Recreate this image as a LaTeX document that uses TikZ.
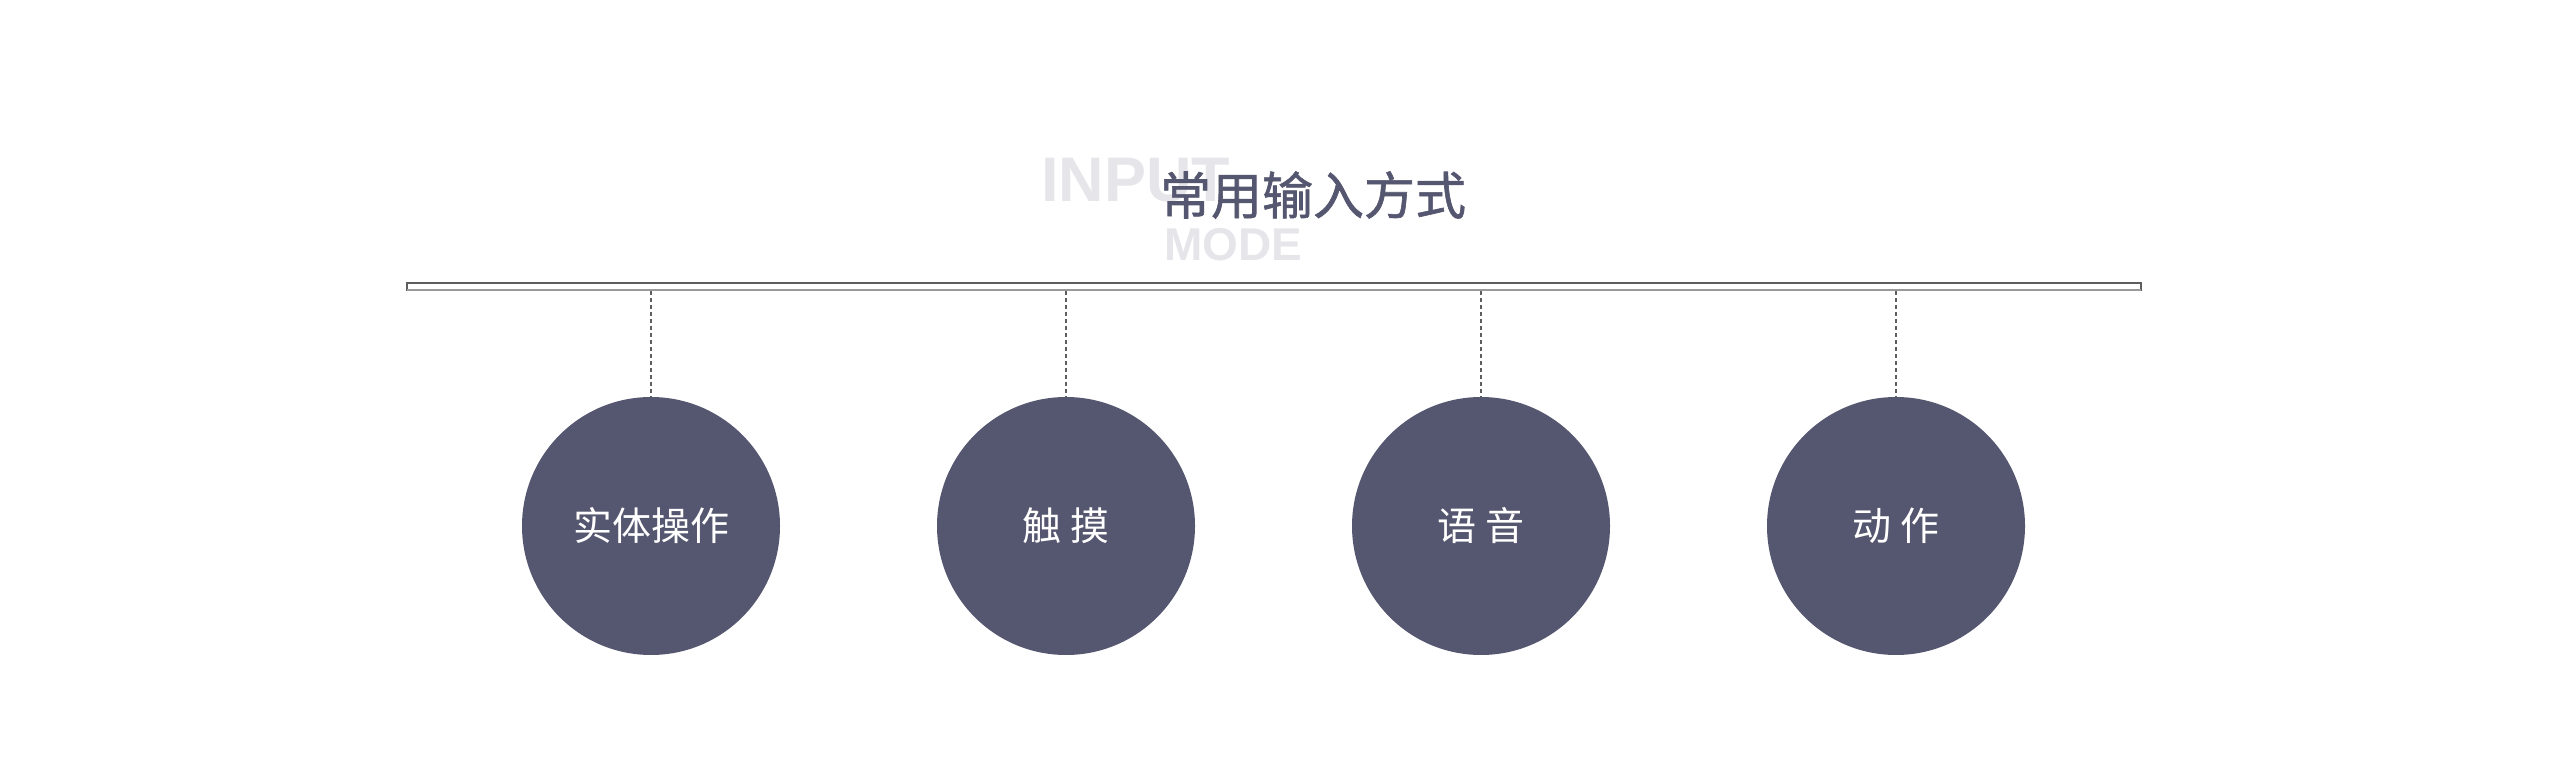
\documentclass[tikz,border=0pt]{standalone}
\usepackage{fontspec}
\setmainfont{Liberation Sans}
\newfontfamily\cjk{Noto Sans CJK SC}
\newfontfamily\cjkhead[FakeBold=1.2]{Noto Sans CJK SC}
\usetikzlibrary{positioning}
\definecolor{slate}{HTML}{55566F}
\definecolor{ghost}{HTML}{E6E6EA}
\definecolor{rail}{HTML}{5E5E5E}
\definecolor{lightrail}{HTML}{9A9A9A}

\begin{document}
\begin{tikzpicture}[x=1pt,y=-1pt,
    mode/.style={circle,minimum size=258pt,inner sep=0pt,fill=slate,text=white,font=\cjk\fontsize{39}{39}\selectfont},
    hang/.style={draw=rail,line width=1.2pt,dash pattern=on 4pt off 3pt},
    ghosttext/.style={text=ghost,inner sep=0pt,anchor=base west,font=\bfseries\fontsize{#1}{#1}\selectfont}]
        \useasboundingbox (0,0) rectangle (2560,783);

        \node[ghosttext=63] (input) at (1041,202) {INPUT};
        \node[ghosttext=46] (word) at (1164,261) {MODE};
        \node[text=slate,inner sep=0pt,font=\cjkhead\fontsize{51}{51}\selectfont] (title) at (1313,195) {常用输入方式};

        \draw[rail,line width=2.5pt] (407,283) rectangle (2141,290);
        \draw[lightrail,line width=2.5pt] (407,290) -- (2141,290);

        \node[mode] (solid) at (651,526) {\raisebox{-3pt}{实体操作}};
        \node[mode] (touch) at (1066,526) {\raisebox{-3pt}{触 摸}};
        \node[mode] (voice) at (1481,526) {\raisebox{-3pt}{语 音}};
        \node[mode] (motion) at (1896,526) {\raisebox{-3pt}{动 作}};

        \coordinate (s) at (651,291);
        \coordinate (t) at (1066,291);
        \coordinate (v) at (1481,291);
        \coordinate (m) at (1896,291);

        \draw[hang] (s) -- (solid.north);
        \draw[hang] (t) -- (touch.north);
        \draw[hang] (v) -- (voice.north);
        \draw[hang] (m) -- (motion.north);
      \end{tikzpicture}
\end{document}
